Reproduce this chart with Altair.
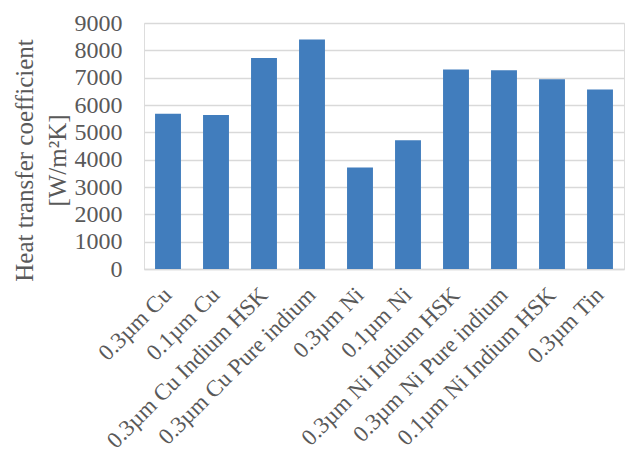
import altair as alt
import pandas as pd

# Measured heat transfer coefficients per interface material
samples = [
    "0.3µm Cu",
    "0.1µm Cu",
    "0.3µm Cu Indium HSK",
    "0.3µm Cu Pure indium",
    "0.3µm Ni",
    "0.1µm Ni",
    "0.3µm Ni Indium HSK",
    "0.3µm Ni Pure indium",
    "0.1µm Ni Indium HSK",
    "0.3µm Tin",
]
htc = [5680, 5630, 7720, 8400, 3710, 4710, 7300, 7270, 6940, 6570]
y_ticks = list(range(0, 9001, 1000))

df = pd.DataFrame({"sample": samples, "htc": htc})

FONT = "Liberation Serif"
TEXT = "#595959"
GRID = "#d9d9d9"

chart = (
    alt.Chart(df)
    .mark_bar(color="#417DBD")
    .encode(
        x=alt.X(
            "sample:N",
            sort=samples,
            scale=alt.Scale(paddingInner=0.46, paddingOuter=0.23),
            axis=alt.Axis(
                title=None,
                labelAngle=-45,
                labelAlign="right",
                labelBaseline="middle",
                labelFont=FONT,
                labelFontSize=23,
                labelColor=TEXT,
                labelPadding=22,
                ticks=False,
                domainColor=GRID,
                domainWidth=1.5,
                labelOverlap=False,
                labelLimit=400,
            ),
        ),
        y=alt.Y(
            "htc:Q",
            scale=alt.Scale(domain=[0, 9000], nice=False),
            axis=alt.Axis(
                values=y_ticks,
                format="d",
                title=["Heat transfer coefficient", "[W/m²K]"],
                titleFont=FONT,
                titleFontSize=25,
                titleFontWeight="normal",
                titleColor=TEXT,
                titleAngle=-90,
                titleAlign="center",
                titleBaseline="middle",
                titleLineHeight=33,
                titleX=-120,
                titleY=137,
                labelFont=FONT,
                labelFontSize=24,
                labelColor=TEXT,
                labelPadding=22,
                ticks=False,
                domain=False,
                grid=True,
                gridColor=GRID,
                gridWidth=1.5,
            ),
        ),
    )
    .properties(
        width=480,
        height=246,
        autosize=alt.AutoSizeParams(type="none"),
        padding={"left": 144, "top": 23, "right": 1, "bottom": 188},
    )
    .configure_view(stroke=None)
    .configure(background="white")
)

chart.save("out.html", embed_options={"renderer": "svg", "actions": False})
